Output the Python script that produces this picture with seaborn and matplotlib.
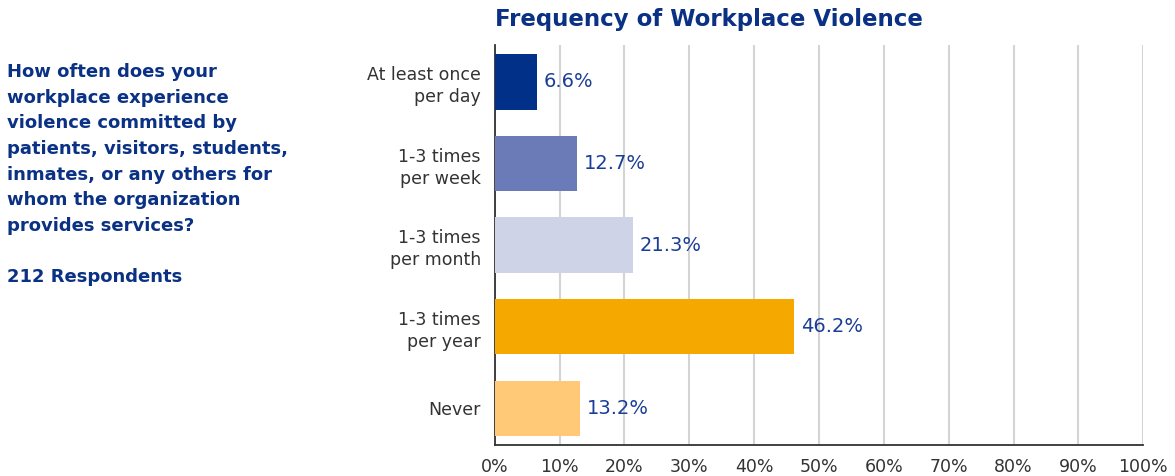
import seaborn as sns
import matplotlib.pyplot as plt
import pandas as pd

categories = ["At least once\nper day", "1-3 times\nper week", "1-3 times\nper month",
              "1-3 times\nper year", "Never"]
percents = [6.6, 12.7, 21.3, 46.2, 13.2]
bar_colors = ["#003087", "#6a7bb8", "#cfd3e8", "#f5a800", "#ffc978"]
tick_vals = list(range(0, 101, 10))
tick_labels = [f"{t}%" for t in tick_vals]

question = ("How often does your\nworkplace experience\nviolence committed by\n"
            "patients, visitors, students,\ninmates, or any others for\n"
            "whom the organization\nprovides services?\n\n212 Respondents")

navy = "#0a3184"

sns.set_style("white")
plt.rcParams["font.family"] = ["DejaVu Sans"]

df = pd.DataFrame({"cat": categories, "pct": percents})

fig = plt.figure(figsize=(11.75, 4.76), dpi=100)
ax = fig.add_axes([0.421, 0.065, 0.552, 0.84])

sns.barplot(data=df, x="pct", y="cat", hue="cat", palette=bar_colors,
            legend=False, width=0.68, ax=ax, zorder=3, saturation=1, linewidth=0)

ax.set_xlim(0, 100)
ax.set_ylim(4.45, -0.45)
ax.set_xticks(tick_vals)
ax.set_xticklabels(tick_labels, fontsize=12.5, color="#333333")
ax.tick_params(axis="y", labelsize=12.5, labelcolor="#333333", length=0, pad=10)
ax.tick_params(axis="x", length=0, pad=9)
ax.set_xlabel("")
ax.set_ylabel("")
for lab in ax.get_yticklabels():
    lab.set_horizontalalignment("right")
    lab.set_multialignment("right")
    lab.set_linespacing(1.3)

ax.grid(axis="x", color="#d4d4d4", linewidth=1.5, zorder=0)
ax.set_axisbelow(True)
for s in ["top", "right"]:
    ax.spines[s].set_visible(False)
ax.spines["left"].set_color("#333333")
ax.spines["bottom"].set_color("#333333")
ax.spines["left"].set_linewidth(1.3)
ax.spines["bottom"].set_linewidth(1.3)

for i, p in enumerate(percents):
    ax.text(p + 1.0, i, f"{p}%", va="center", ha="left", fontsize=14, color="#1a3d96")

fig.text(0.421, 0.958, "Frequency of Workplace Violence", fontsize=16.5, fontweight="bold",
         color=navy, ha="left", va="center")
fig.text(0.006, 0.868, question, fontsize=13, fontweight="bold", color=navy,
         ha="left", va="top", linespacing=1.55)

fig.savefig("out.png", dpi=100)
